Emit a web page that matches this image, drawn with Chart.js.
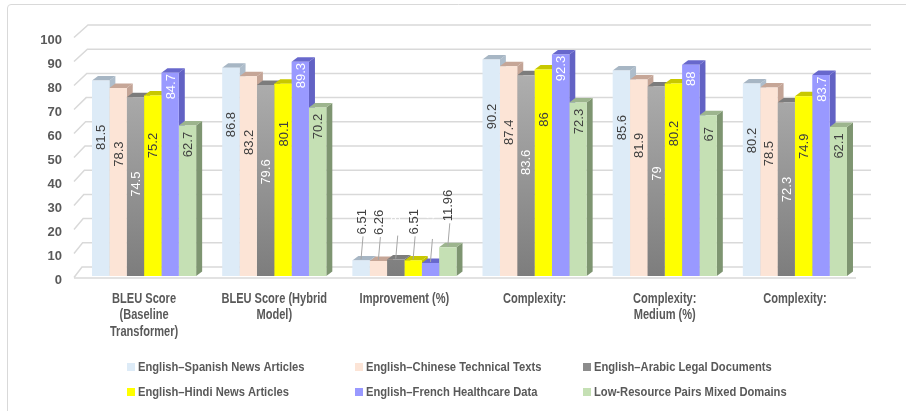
<!DOCTYPE html>
<html>
<head>
<meta charset="utf-8">
<script src="https://cdn.jsdelivr.net/npm/chart.js@4.4.0/dist/chart.umd.min.js"></script>
<style>
  body { margin: 0; background: #fff; }
  canvas { display: block; }
</style>
</head>
<body>
<canvas id="myChart" width="906" height="411"></canvas>
<script>
// Categories (x axis), one entry per group, split in lines like the original
const categories = [
  ['BLEU Score', '(Baseline', 'Transformer)'],
  ['BLEU Score (Hybrid', 'Model)'],
  ['Improvement (%)'],
  ['Complexity:'],
  ['Complexity:', 'Medium (%)'],
  ['Complexity:']
];

// Series names
const seriesNames = [
  'English\u2013Spanish News Articles',
  'English\u2013Chinese Technical Texts',
  'English\u2013Arabic Legal Documents',
  'English\u2013Hindi News Articles',
  'English\u2013French Healthcare Data',
  'Low-Resource Pairs Mixed Domains'
];

// Series values
const spanishValues = [81.5, 86.8, 6.51, 90.2, 85.6, 80.2];
const chineseValues = [78.3, 83.2, 6.26, 87.4, 81.9, 78.5];
const arabicValues  = [74.5, 79.6, 6.85, 83.6, 79, 72.3];
const hindiValues   = [75.2, 80.1, 6.51, 86, 80.2, 74.9];
const frenchValues  = [84.7, 89.3, 5.43, 92.3, 88, 83.7];
const lowResValues  = [62.7, 70.2, 11.96, 72.3, 67, 62.1];

// Y axis ticks
const yTicks = [0, 10, 20, 30, 40, 50, 60, 70, 80, 90, 100];

// Styles for each series: front, top face, side face, label colour, label drop
const seriesStyles = [
  { front: '#ddebf7', top: '#a7b6c4', side: '#aebdcb', label: '#404040', drop: 57 },
  { front: '#fce4d6', top: '#c6a697', side: '#c3a496', label: '#404040', drop: 66 },
  { front: 'gradient', top: '#7c7c7c', side: '#6f6f6f', label: '#ffffff', drop: 87 },
  { front: '#ffff00', top: '#c8c800', side: '#bcbc00', label: '#404040', drop: 50 },
  { front: '#9999ff', top: '#6868cc', side: '#6262c4', label: '#ffffff', drop: 14 },
  { front: '#c5e0b4', top: '#9db58e', side: '#7e9571', label: '#404040', drop: 19 }
];

const allValues = [spanishValues, chineseValues, arabicValues, hindiValues, frenchValues, lowResValues];

const DX = 6, DY = 4.5;
const FONT = '"Liberation Sans", Arial, sans-serif';
const TEXT = '#595959';

function grayGradient(context) {
  const chart = context.chart;
  const ca = chart.chartArea;
  if (!ca) return '#999999';
  const g = chart.ctx.createLinearGradient(0, ca.top, 0, ca.bottom);
  g.addColorStop(0, '#b8b8b8');
  g.addColorStop(1, '#7d7d7d');
  return g;
}

// squeezed text, the original uses a narrow font
function narrowText(ctx, text, x, y, align, sx) {
  ctx.save();
  ctx.translate(x, y);
  ctx.scale(sx, 1);
  ctx.textAlign = align;
  ctx.fillText(text, 0, 0);
  ctx.restore();
}

const bar3d = {
  id: 'bar3d',
  beforeDatasetsDraw(chart) {
    const ctx = chart.ctx;
    const y = chart.scales.y;
    ctx.save();
    // back wall grid with perspective side
    ctx.strokeStyle = '#d9d9d9';
    ctx.lineWidth = 1.5;
    yTicks.forEach(v => {
      const py = y.getPixelForValue(v);
      const t = v / 100;
      const bx = 82 + 6 * t, by = py - 9 - 2 * t;
      ctx.beginPath();
      ctx.moveTo(74, py + 1.5);
      ctx.lineTo(bx, by);
      ctx.lineTo(871, by);
      ctx.stroke();
    });
    // floor front edge
    const p0 = y.getPixelForValue(0) + 2;
    ctx.beginPath();
    ctx.moveTo(74, p0);
    ctx.lineTo(856, p0);
    ctx.stroke();

    // top and side faces, fronts are drawn by Chart.js over them
    chart.data.datasets.forEach((ds, i) => {
      const st = seriesStyles[i];
      chart.getDatasetMeta(i).data.forEach(bar => {
        const left = bar.x - bar.width / 2, right = bar.x + bar.width / 2;
        const top = bar.y, base = bar.base;
        ctx.fillStyle = st.side;
        ctx.beginPath();
        ctx.moveTo(right, top);
        ctx.lineTo(right + DX, top - DY);
        ctx.lineTo(right + DX, base - DY);
        ctx.lineTo(right, base);
        ctx.closePath();
        ctx.fill();
        ctx.fillStyle = st.top;
        ctx.beginPath();
        ctx.moveTo(left, top);
        ctx.lineTo(left + DX, top - DY);
        ctx.lineTo(right + DX, top - DY);
        ctx.lineTo(right, top);
        ctx.closePath();
        ctx.fill();
      });
    });
    ctx.restore();
  },
  afterDatasetsDraw(chart) {
    const ctx = chart.ctx;
    const x = chart.scales.x;
    ctx.save();

    // value labels, rotated
    ctx.font = '13px ' + FONT;
    chart.data.datasets.forEach((ds, i) => {
      const st = seriesStyles[i];
      chart.getDatasetMeta(i).data.forEach((bar, j) => {
        const text = String(ds.data[j]);
        const w = ctx.measureText(text).width;
        let cy;
        if (ds.data[j] >= 20) {
          cy = bar.y + st.drop;
        } else {
          // small bars: label above with a leader line
          const bottom = bar.y - 26;
          cy = bottom - w / 2;
          ctx.strokeStyle = '#a6a6a6';
          ctx.lineWidth = 1;
          ctx.beginPath();
          ctx.moveTo(bar.x, bar.y - 1);
          ctx.lineTo(bar.x + 2, bottom + 2);
          ctx.stroke();
        }
        ctx.save();
        ctx.translate(bar.x + 1, cy);
        ctx.rotate(-Math.PI / 2);
        ctx.fillStyle = st.label;
        ctx.textAlign = 'center';
        ctx.textBaseline = 'middle';
        ctx.fillText(text, 0, 0);
        ctx.restore();
      });
    });

    // category labels
    ctx.fillStyle = TEXT;
    ctx.font = 'bold 14px ' + FONT;
    ctx.textBaseline = 'middle';
    categories.forEach((lines, i) => {
      const cx = x.getPixelForValue(i);
      lines.forEach((line, k) => narrowText(ctx, line, cx, 299 + k * 16.5, 'center', 0.79));
    });

    // legend, 3 columns x 2 rows
    const colX = [127, 355, 583];
    const rowY = [367, 392];
    ctx.font = 'bold 13px ' + FONT;
    seriesNames.forEach((name, i) => {
      const mx = colX[i % 3], my = rowY[Math.floor(i / 3)];
      ctx.fillStyle = i === 2 ? '#8c8c8c' : seriesStyles[i].front;
      ctx.fillRect(mx, my - 4, 8, 8);
      ctx.fillStyle = TEXT;
      narrowText(ctx, name, mx + 11, my, 'left', 0.86);
    });

    // chart border
    ctx.strokeStyle = '#d9d9d9';
    ctx.lineWidth = 1;
    ctx.beginPath();
    ctx.moveTo(7.5, 411);
    ctx.lineTo(7.5, 8);
    ctx.quadraticCurveTo(7.5, 4.5, 11, 4.5);
    ctx.lineTo(906, 4.5);
    ctx.stroke();
    ctx.restore();
  }
};

const datasets = allValues.map((vals, i) => ({
  label: seriesNames[i],
  data: vals,
  backgroundColor: seriesStyles[i].front === 'gradient' ? grayGradient : seriesStyles[i].front,
  borderWidth: 0,
  categoryPercentage: 0.8,
  barPercentage: 1.0
}));

const ctx = document.getElementById('myChart').getContext('2d');
const chart = new Chart(ctx, {
  type: 'bar',
  data: {
    labels: categories.map(c => c.join(' ')),
    datasets: datasets
  },
  options: {
    responsive: false,
    animation: false,
    layout: { padding: { left: 0, right: 46, top: 36, bottom: 0 } },
    plugins: {
      legend: { display: false },
      tooltip: { enabled: false }
    },
    scales: {
      x: {
        grid: { display: false },
        border: { display: false },
        ticks: { display: false },
        afterFit: scale => { scale.height = 135; }
      },
      y: {
        min: 0,
        max: 100,
        grid: { display: false, drawTicks: false },
        border: { display: false },
        ticks: {
          stepSize: 10,
          padding: 17,
          labelOffset: 4,
          color: TEXT,
          font: { family: FONT, size: 13, weight: 'bold' }
        },
        afterFit: scale => { scale.width = 79; }
      }
    }
  },
  plugins: [bar3d]
});
</script>
</body>
</html>
